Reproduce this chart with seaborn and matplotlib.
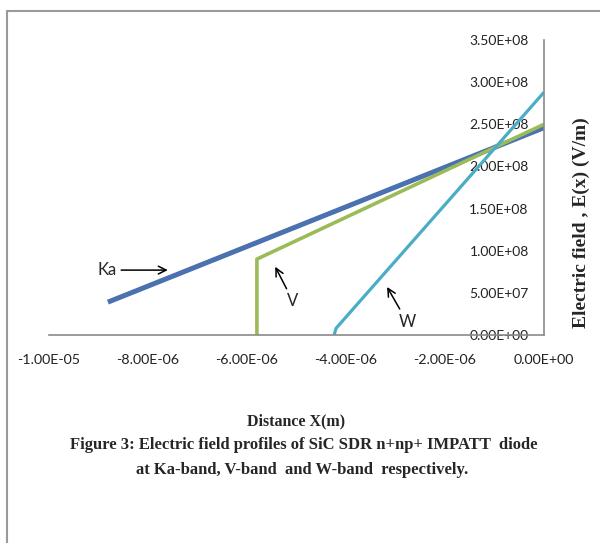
import numpy as np
import pandas as pd
import matplotlib
matplotlib.use("Agg")
import matplotlib.pyplot as plt
from matplotlib.lines import Line2D
from matplotlib.ticker import FuncFormatter
import seaborn as sns

# electric field profiles (x in m, E in V/m)
ka_x = [-8.81e-6, 0.0]
ka_e = [0.39e8, 2.46e8]
v_x = [-5.80e-6, -5.80e-6, 0.0]
v_e = [0.0, 0.90e8, 2.50e8]
w_x = [-4.24e-6, -4.20e-6, 0.0]
w_e = [0.0, 0.08e8, 2.88e8]

bands = ["Ka", "V", "W"]
colors = {"Ka": "#4a71b0", "V": "#9bbb59", "W": "#4bacc6"}
widths = {"Ka": 3.6, "V": 2.6, "W": 2.3}

caption1 = "Figure 3: Electric field profiles of SiC SDR n+np+ IMPATT  diode"
caption2 = "at Ka-band, V-band  and W-band  respectively."

df = pd.concat([
    pd.DataFrame({"x": ka_x, "E": ka_e, "band": "Ka"}),
    pd.DataFrame({"x": v_x, "E": v_e, "band": "V"}),
    pd.DataFrame({"x": w_x, "E": w_e, "band": "W"}),
], ignore_index=True)

sns.set_theme(style="white")
plt.rcParams["font.family"] = ["Lato", "DejaVu Sans"]

fig = plt.figure(figsize=(6, 5.43), dpi=100)
W_, H_ = 600, 543
ax = fig.add_axes([49 / W_, 1 - 335 / H_, 495 / W_, 295 / H_])

for b in bands:
    sns.lineplot(data=df[df["band"] == b], x="x", y="E", color=colors[b],
                 linewidth=widths[b], sort=False, estimator=None, ax=ax,
                 legend=False, solid_capstyle="butt")

ax.set_xlim(-1e-5, 0)
ax.set_ylim(0, 3.5e8)
ax.set_xticks(np.arange(-1e-5, 1e-7, 2e-6))
ax.set_yticks(np.arange(0, 3.51e8, 0.5e8))
fmt = FuncFormatter(lambda v, p: "{:.2E}".format(0.0 if abs(v) < 1e-12 else v))
ax.xaxis.set_major_formatter(fmt)
ax.yaxis.set_major_formatter(fmt)

for s in ["top", "left"]:
    ax.spines[s].set_visible(False)
for s in ["bottom", "right"]:
    ax.spines[s].set_color("#8a8a8a")
    ax.spines[s].set_linewidth(1.2)

ax.yaxis.tick_right()
ax.tick_params(axis="y", length=0, pad=-11, labelsize=10, labelcolor="#222222")
ax.tick_params(axis="x", length=0, pad=14, labelsize=10.3, labelcolor="#222222")
for t in ax.get_yticklabels():
    t.set_horizontalalignment("right")

serif = ["Liberation Serif", "DejaVu Serif"]
ax.set_xlabel("Distance X(m)", fontsize=11.5, fontweight="bold", family=serif)
ax.xaxis.set_label_coords(0.5, -0.265)
ax.set_ylabel("Electric field , E(x) (V/m)", fontsize=14, fontweight="bold",
              family=serif)
ax.yaxis.set_label_position("right")
ax.yaxis.label.set_rotation(90)
ax.yaxis.label.set_horizontalalignment("center")
ax.yaxis.label.set_verticalalignment("center")
ax.yaxis.set_label_coords(1.075, 0.38)

arrow = dict(arrowstyle="->", color="black", lw=1.1, mutation_scale=14,
             shrinkA=1, shrinkB=0)
ax.annotate("Ka", xy=(-7.6e-6, 0.77e8), xytext=(-8.83e-6, 0.77e8),
            ha="center", va="center", fontsize=12, arrowprops=arrow)
ax.annotate("V", xy=(-5.43e-6, 0.81e8), xytext=(-5.07e-6, 0.40e8),
            ha="center", va="center", fontsize=12, arrowprops=arrow)
ax.annotate("W", xy=(-3.17e-6, 0.57e8), xytext=(-2.77e-6, 0.16e8),
            ha="center", va="center", fontsize=12, arrowprops=arrow)

fig.text(304 / W_, 1 - 445 / H_, caption1, ha="center", va="center",
         fontsize=12, fontweight="bold", family=serif)
fig.text(302 / W_, 1 - 470 / H_, caption2, ha="center", va="center",
         fontsize=12, fontweight="bold", family=serif)

# surrounding frame of the embedded chart
fig.add_artist(Line2D([7 / W_, 7 / W_], [0, 1 - 11 / H_], color="#9a9a9a", lw=1.5))
fig.add_artist(Line2D([7 / W_, 1], [1 - 11 / H_, 1 - 11 / H_], color="#9a9a9a", lw=1.5))

fig.savefig("out.png", dpi=100, facecolor="white")
